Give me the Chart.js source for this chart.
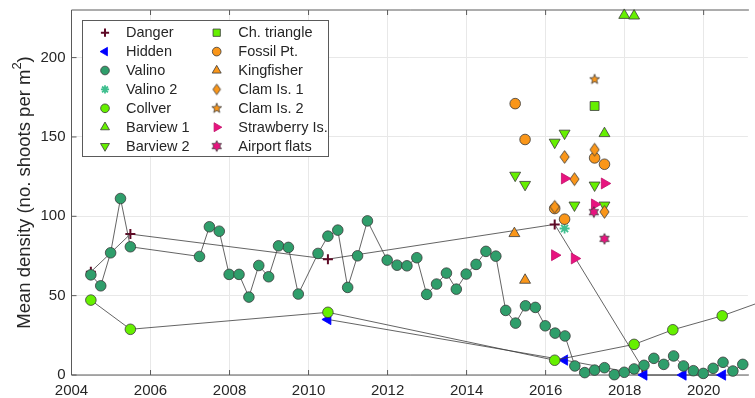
<!DOCTYPE html>
<html>
<head>
<meta charset="utf-8">
<script src="https://cdn.jsdelivr.net/npm/chart.js@4.4.1/dist/chart.umd.min.js"></script>
<style>
  html, body { margin: 0; padding: 0; background: #fff; overflow: hidden; }
  #c { display: block; }
</style>
</head>
<body>
<canvas id="c" width="755" height="398"></canvas>
<script>
// ---- axis setup ----
const xTicks = [2004, 2006, 2008, 2010, 2012, 2014, 2016, 2018, 2020];
const yTicks = [0, 50, 100, 150, 200];
const xMin = 2004, xMax = 2021.12;
const yMin = 0, yMax = 230;

// ---- survey data (decimal year, shoots per m^2) ----
const dangerYear = [2004.49, 2005.49, 2010.49, 2016.23, 2018.45];
const dangerDensity = [65, 88.8, 73.0, 94.9, 4.5];

const hiddenYear = [2010.49, 2016.48, 2018.49, 2019.48, 2020.48];
const hiddenDensity = [35, 9.4, 0, 0, 0];

const valinoYear = [
  2004.49, 2004.74, 2004.99, 2005.24, 2005.49,
  2007.24, 2007.49, 2007.74, 2007.99, 2008.24, 2008.49, 2008.74, 2008.99,
  2009.24, 2009.49, 2009.74, 2010.24, 2010.49, 2010.74, 2010.99, 2011.24, 2011.49,
  2011.99, 2012.24, 2012.49, 2012.74, 2012.99, 2013.24, 2013.49, 2013.74,
  2013.99, 2014.24, 2014.49, 2014.74, 2014.99, 2015.24, 2015.49, 2015.74,
  2015.99, 2016.24, 2016.49, 2016.74, 2016.99, 2017.24, 2017.49, 2017.74,
  2017.99, 2018.24, 2018.49, 2018.74, 2018.99, 2019.24, 2019.49, 2019.74,
  2019.99, 2020.24, 2020.49, 2020.74, 2020.99
];
const valinoDensity = [
  63.1, 56.2, 77.0, 111.2, 80.8,
  74.7, 93.4, 90.6, 63.4, 63.4, 49.1, 69.0, 61.9,
  81.4, 80.4, 51.0, 76.6, 87.5, 91.3, 55.2, 75.1, 97.1,
  72.4, 69.2, 68.8, 73.9, 50.8, 57.3, 64.2, 54.1,
  63.6, 69.7, 77.9, 74.9, 40.7, 32.7, 43.6, 42.6,
  31.0, 26.4, 24.6, 5.7, 1.5, 3.1, 4.6, 0.2,
  1.7, 3.8, 6.1, 10.5, 6.7, 12.0, 5.7, 2.7,
  1.0, 4.2, 8.0, 2.5, 6.7
];

const valino2Year = [2016.48];
const valino2Density = [92.3];

const collverYear = [2004.49, 2005.49, 2010.49, 2016.23, 2018.24, 2019.22, 2020.47, 2021.5];
const collverDensity = [47.2, 28.8, 39.5, 9.3, 19.3, 28.5, 37.3, 46.5];

const barview1Year = [2017.49, 2017.99, 2018.24];
const barview1Density = [152.2, 226.7, 226.3];

const barview2Year = [2015.23, 2015.48, 2016.23, 2016.48, 2016.73, 2017.24, 2017.49];
const barview2Density = [125.8, 120.0, 146.6, 152.3, 107.0, 119.6, 107.0];

const chTriangleYear = [2017.24];
const chTriangleDensity = [169.5];

const fossilYear = [2015.23, 2015.48, 2016.23, 2016.48, 2017.24, 2017.49];
const fossilDensity = [171, 148.4, 104.9, 98.2, 136.8, 132.8];

const kingfisherYear = [2015.21, 2015.48];
const kingfisherDensity = [89.2, 59.8];

const clam1Year = [2016.23, 2016.48, 2016.73, 2017.24, 2017.49];
const clam1Density = [106, 137.4, 123.4, 142, 102.8];

const clam2Year = [2017.24];
const clam2Density = [186.3];

const strawberryYear = [2016.23, 2016.48, 2016.73, 2017.24, 2017.49];
const strawberryDensity = [75.5, 123.8, 73.4, 107.5, 120.7];

const airportYear = [2017.22, 2017.49];
const airportDensity = [102.6, 85.8];

// ---- styling ----
const FONT = "'Liberation Sans', Arial, Helvetica, sans-serif";
const TEXT = '#262626';
const AXIS = '#5a5a5a';
const EDGE = '#3a3a3a';
const LINE = '#3c3c3c';
const SEA = '#2f9e6b';
const SEA2 = '#3fbf8f';
const LIME = '#66f000';
const ORANGE = '#fa9619';
const MAGENTA = '#e8137f';
const MAROON = '#5e0a26';
const BLUE = '#0000ff';

// small canvas markers for shapes Chart.js has no built-in style for
function markerCanvas(w, h, pathFn, fill, stroke) {
  const cv = document.createElement('canvas');
  cv.width = Math.ceil(w); cv.height = Math.ceil(h);
  const g = cv.getContext('2d');
  g.beginPath();
  pathFn(g, cv.width / 2, cv.height / 2);
  g.closePath();
  g.fillStyle = fill; g.fill();
  g.lineWidth = 0.8; g.strokeStyle = stroke; g.stroke();
  return cv;
}

function starMarker(points, rOuter, rInner, fill, stroke) {
  const size = rOuter * 2 + 3;
  return markerCanvas(size, size, (g, cx, cy) => {
    for (let i = 0; i < points * 2; i++) {
      const r = i % 2 === 0 ? rOuter : rInner;
      const a = -Math.PI / 2 + i * Math.PI / points;
      const px = cx + r * Math.cos(a), py = cy + r * Math.sin(a);
      if (i === 0) g.moveTo(px, py); else g.lineTo(px, py);
    }
  }, fill, stroke);
}

function diamondMarker(halfW, halfH, fill, stroke) {
  return markerCanvas(halfW * 2 + 3, halfH * 2 + 3, (g, cx, cy) => {
    g.moveTo(cx, cy - halfH);
    g.lineTo(cx + halfW, cy);
    g.lineTo(cx, cy + halfH);
    g.lineTo(cx - halfW, cy);
  }, fill, stroke);
}

const clam1Diamond = diamondMarker(4.6, 6.4, ORANGE, EDGE);
const clam1DiamondSmall = diamondMarker(3.8, 5.3, ORANGE, EDGE);
const clam2Star = starMarker(5, 5.2, 2.2, ORANGE, EDGE);
const airportStar = starMarker(6, 5.4, 3.0, MAGENTA, EDGE);

function series(label, xs, ys, marker, line) {
  return Object.assign({
    label: label,
    data: xs.map((x, i) => ({ x: x, y: ys[i] })),
    showLine: !!line,
    borderColor: LINE,
    borderWidth: 0.8,
    pointBorderWidth: 0.8,
    pointRotation: 0,
    clip: false
  }, marker);
}

const datasets = [
  series('Danger', dangerYear, dangerDensity,
    { pointStyle: 'cross', pointRadius: 5, pointBorderColor: MAROON, pointBackgroundColor: MAROON, pointBorderWidth: 2 }, true),
  series('Hidden', hiddenYear, hiddenDensity,
    { pointStyle: 'triangle', pointRotation: -90, pointRadius: 6, pointBorderColor: BLUE, pointBackgroundColor: BLUE }, true),
  series('Valino', valinoYear, valinoDensity,
    { pointStyle: 'circle', pointRadius: 5.3, pointBorderColor: EDGE, pointBackgroundColor: SEA }, true),
  series('Valino 2', valino2Year, valino2Density,
    { pointStyle: 'star', pointRadius: 5, pointBorderColor: SEA2, pointBackgroundColor: SEA2, pointBorderWidth: 1.8 }),
  series('Collver', collverYear, collverDensity,
    { pointStyle: 'circle', pointRadius: 5.3, pointBorderColor: EDGE, pointBackgroundColor: LIME }, true),
  series('Barview 1', barview1Year, barview1Density,
    { pointStyle: 'triangle', pointRadius: 6.3, pointBorderColor: EDGE, pointBackgroundColor: LIME }),
  series('Barview 2', barview2Year, barview2Density,
    { pointStyle: 'triangle', pointRotation: 180, pointRadius: 6.3, pointBorderColor: EDGE, pointBackgroundColor: LIME }),
  series('Ch. triangle', chTriangleYear, chTriangleDensity,
    { pointStyle: 'rect', pointRadius: 6.3, pointBorderColor: EDGE, pointBackgroundColor: LIME }),
  series('Fossil Pt.', fossilYear, fossilDensity,
    { pointStyle: 'circle', pointRadius: 5.3, pointBorderColor: EDGE, pointBackgroundColor: ORANGE }),
  series('Kingfisher', kingfisherYear, kingfisherDensity,
    { pointStyle: 'triangle', pointRadius: 6.3, pointBorderColor: EDGE, pointBackgroundColor: ORANGE }),
  series('Clam Is. 1', clam1Year, clam1Density,
    { pointStyle: clam1Diamond, legendStyle: clam1DiamondSmall, pointRadius: 6, pointBorderColor: EDGE, pointBackgroundColor: ORANGE }),
  series('Clam Is. 2', clam2Year, clam2Density,
    { pointStyle: clam2Star, pointRadius: 5, pointBorderColor: EDGE, pointBackgroundColor: ORANGE }),
  series('Strawberry Is.', strawberryYear, strawberryDensity,
    { pointStyle: 'triangle', pointRotation: 90, pointRadius: 6.3, pointBorderColor: '#c0106a', pointBackgroundColor: MAGENTA }),
  series('Airport flats', airportYear, airportDensity,
    { pointStyle: airportStar, pointRadius: 5, pointBorderColor: EDGE, pointBackgroundColor: MAGENTA })
];
// later series are drawn on top
datasets.forEach((d, i) => { d.order = datasets.length - i; });

// box, inward ticks and y title
const framePlugin = {
  id: 'frame',
  beforeDatasetsDraw(chart) {
    const { ctx, chartArea: a, scales } = chart;
    ctx.save();
    ctx.strokeStyle = AXIS;
    ctx.lineWidth = 1;
    ctx.beginPath();
    ctx.moveTo(a.left, a.top); ctx.lineTo(a.right + 1, a.top);
    ctx.moveTo(a.left, a.top); ctx.lineTo(a.left, a.bottom);
    ctx.moveTo(a.left, a.bottom); ctx.lineTo(a.right + 1, a.bottom);
    const tl = 5;
    xTicks.forEach(v => {
      const px = scales.x.getPixelForValue(v);
      ctx.moveTo(px, a.bottom); ctx.lineTo(px, a.bottom - tl);
      ctx.moveTo(px, a.top); ctx.lineTo(px, a.top + tl);
    });
    yTicks.forEach(v => {
      const py = scales.y.getPixelForValue(v);
      ctx.moveTo(a.left, py); ctx.lineTo(a.left + tl, py);
    });
    ctx.stroke();

    // y axis title with superscript
    const size = 18.5;
    const main = 'Mean density (no. shoots per m';
    const sup = '2';
    const tail = ')';
    ctx.fillStyle = TEXT;
    ctx.font = size + 'px ' + FONT;
    const wMain = ctx.measureText(main).width;
    const wTail = ctx.measureText(tail).width;
    ctx.font = (size * 0.7) + 'px ' + FONT;
    const wSup = ctx.measureText(sup).width;
    const total = wMain + wSup + wTail;
    ctx.translate(25, (a.top + a.bottom) / 2);
    ctx.rotate(-Math.PI / 2);
    ctx.textBaseline = 'middle';
    ctx.textAlign = 'left';
    let x0 = -total / 2;
    ctx.font = size + 'px ' + FONT;
    ctx.fillText(main, x0, 0);
    ctx.font = (size * 0.7) + 'px ' + FONT;
    ctx.fillText(sup, x0 + wMain, -size * 0.42);
    ctx.font = size + 'px ' + FONT;
    ctx.fillText(tail, x0 + wMain + wSup, 0);
    ctx.restore();
  }
};

// two-column boxed legend
const legendPlugin = {
  id: 'boxLegend',
  afterDraw(chart) {
    const { ctx } = chart;
    const box = { x: 82.5, y: 20.5, w: 246, h: 136 };
    const rowY0 = 32.7, rowStep = 18.9, perCol = 7;
    const colMarkerX = [105, 216.7];
    const colTextX = [126, 238.3];
    ctx.save();
    ctx.fillStyle = '#ffffff';
    ctx.fillRect(box.x, box.y, box.w, box.h);
    ctx.strokeStyle = '#5a5a5a';
    ctx.lineWidth = 1;
    ctx.strokeRect(box.x, box.y, box.w, box.h);
    chart.data.datasets.forEach((d, i) => {
      const col = Math.floor(i / perCol), row = i % perCol;
      const y = rowY0 + row * rowStep;
      const mx = colMarkerX[col];
      ctx.save();
      ctx.fillStyle = d.pointBackgroundColor;
      ctx.strokeStyle = d.pointBorderColor;
      ctx.lineWidth = d.pointBorderWidth;
      Chart.helpers.drawPoint(ctx, {
        pointStyle: d.legendStyle || d.pointStyle,
        rotation: d.pointRotation,
        radius: d.pointRadius * 0.82,
        borderWidth: d.pointBorderWidth
      }, mx, y);
      ctx.restore();
      ctx.fillStyle = TEXT;
      ctx.font = '14.5px ' + FONT;
      ctx.textBaseline = 'middle';
      ctx.textAlign = 'left';
      ctx.fillText(d.label, colTextX[col], y + 0.5);
    });
    ctx.restore();
  }
};

new Chart(document.getElementById('c'), {
  type: 'scatter',
  data: { datasets: datasets },
  plugins: [framePlugin, legendPlugin],
  options: {
    responsive: false,
    animation: false,
    devicePixelRatio: 1,
    layout: { padding: { top: 10, left: 0, right: 0, bottom: 0 } },
    plugins: { legend: { display: false }, tooltip: { enabled: false } },
    scales: {
      x: {
        type: 'linear', min: xMin, max: xMax,
        afterBuildTicks: s => { s.ticks = xTicks.map(v => ({ value: v })); },
        afterFit: s => { s.height = 23; s.paddingLeft = 0; s.paddingRight = 0; },
        grid: { color: '#e8e8e8', lineWidth: 1, drawTicks: false },
        border: { display: false },
        ticks: {
          padding: 7, color: TEXT, maxRotation: 0, autoSkip: false,
          font: { family: FONT, size: 15 },
          callback: v => String(v)
        }
      },
      y: {
        type: 'linear', min: yMin, max: yMax,
        afterBuildTicks: s => { s.ticks = yTicks.map(v => ({ value: v })); },
        afterFit: s => { s.width = 71.5; s.paddingTop = 0; s.paddingBottom = 0; },
        grid: { color: '#e8e8e8', lineWidth: 1, drawTicks: false },
        border: { display: false },
        ticks: {
          padding: 6, color: TEXT,
          font: { family: FONT, size: 15 },
          callback: v => String(v)
        }
      }
    }
  }
});
</script>
</body>
</html>
